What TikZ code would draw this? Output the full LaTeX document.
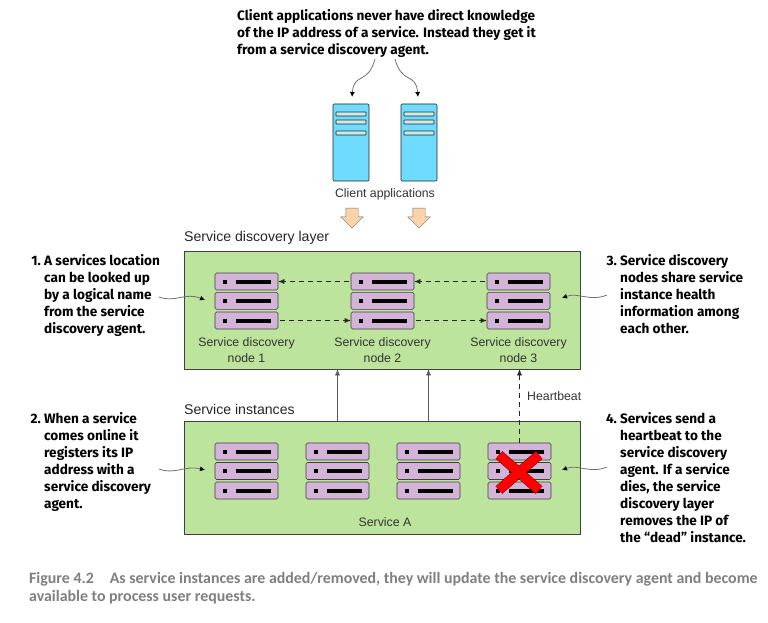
\documentclass[tikz,border=0pt]{standalone}
\usepackage{fontspec}
\setmainfont{Liberation Sans}
\newfontfamily\notefont{Fira Sans}
\newfontfamily\capfont{Carlito}
\usepackage{xcolor}
\usepackage{tikz}
\usetikzlibrary{arrows.meta}
\usetikzlibrary{shapes.arrows}
\definecolor{layergreen}{HTML}{BDE49C}
\definecolor{rackpurple}{HTML}{D4B3D9}
\definecolor{clientblue}{HTML}{6EDBFF}
\definecolor{slotblue}{HTML}{C9ECEA}
\definecolor{flowpeach}{HTML}{FBD3A8}
\definecolor{capgray}{HTML}{7F7F7F}
\tikzset{>=latex}
\tikzset{
  layerbox/.style = {rectangle, draw=black!75, semithick, fill=layergreen, minimum width=396, minimum height=118, inner sep=0},
  rackbar/.style = {rectangle, rounded corners=1.5, draw=black!75, semithick, fill=rackpurple, minimum width=63, minimum height=17, inner sep=0,
    path picture={
      \fill [black, sharp corners] ([xshift=8pt,yshift=-6.5pt]path picture bounding box.north west) rectangle +(4pt,-4pt);
      \fill [black, sharp corners] ([xshift=21pt,yshift=-6.5pt]path picture bounding box.north west) rectangle +(35pt,-4pt);
    }},
  clientbox/.style = {rectangle, rounded corners=1, draw=black!85, semithick, fill=clientblue, minimum width=36, minimum height=77, inner sep=0,
    path picture={
      \foreach \slot in {8,16,27} {
        \draw [black!85, semithick, fill=slotblue, rounded corners=0.5] ([xshift=3pt,yshift=-\slot pt]path picture bounding box.north west) rectangle +(30pt,-4pt);
      }
    }},
  flowarrow/.style = {single arrow, shape border rotate=270, draw=black!55, fill=flowpeach, minimum height=20, single arrow head extend=5, single arrow tip angle=90, inner sep=0},
  note/.style = {anchor=north west, align=left, inner sep=0, font=\notefont\bfseries\fontsize{13.6}{17}\selectfont},
  plainlabel/.style = {text=black!80, align=center, inner sep=0, font=\fontsize{12.3}{16.5}\selectfont},
  headlabel/.style = {text=black!85, anchor=west, inner sep=0, font=\fontsize{14.1}{16}\selectfont},
  callout/.style = {-{Latex[length=5,width=5,black]}, black!55, line width=0.8},
  peer/.style = {-{Latex[length=6,width=5]}, dash pattern=on 5 off 4, shorten <=2, black!85, semithick},
}
\begin{document}
\begin{tikzpicture}[x=1pt, y=-1pt]
\useasboundingbox [fill=white] (0,0) rectangle (768,623);
% top note and clients
\node [note] (topnote) at (237,9) {Client applications never have direct knowledge\\of the IP address of a service. Instead they get it\\from a service discovery agent.};
\node [clientbox] (c1) at (351,142.5) {};
\node [clientbox] (c2) at (419,142.5) {};
\node [plainlabel] (clabel) at (385,194.5) {Client applications};
\node [flowarrow] (f1) at (352,215) {\hspace*{12pt}};
\node [flowarrow] (f2) at (419,215) {\hspace*{12pt}};
\coordinate (t1) at (375,59);
\coordinate (t2) at (395,59);
\draw [callout] (t1) .. controls (368,85) and (354,72) .. (352,97);
\draw [callout] (t2) .. controls (402,85) and (416,72) .. (418,97);
% the two layers
\node [headlabel] (dlabel) at (184,238) {Service discovery layer};
\node [layerbox] (layer) at (382,310) {};
\node [headlabel] (ilabel) at (184,409) {Service instances};
\node [layerbox, minimum height=113] (inst) at (382,477.5) {};
% discovery nodes
\foreach \n/\x in {1/246.5, 2/382.5, 3/518.5} {
  \node [rackbar] (d\n a) at (\x,281.5) {};
  \node [rackbar] (d\n b) at (\x,300.8) {};
  \node [rackbar] (d\n c) at (\x,320.5) {};
  \node [plainlabel] (d\n l) at (\x,350) {Service discovery\\node \n};
}
% service instances
\foreach \n/\x in {1/246.5, 2/337.5, 3/428.5, 4/519.5} {
  \node [rackbar] (i\n a) at (\x,451.5) {};
  \node [rackbar] (i\n b) at (\x,471) {};
  \node [rackbar] (i\n c) at (\x,490.5) {};
}
\node [plainlabel] (alabel) at (385,522) {Service A};
\draw [peer] (d2a) -- (d1a);
\draw [peer] (d3a) -- (d2a);
\draw [peer] (d1c) -- (d2c);
\draw [peer] (d2c) -- (d3c);
% up to the discovery layer
\draw [-{Latex[length=6,width=5]}, black!65, semithick] (i2a.north |- inst.north) -- (i2a.north |- layer.south);
\draw [-{Latex[length=6,width=5]}, black!65, semithick] (i3a.north |- inst.north) -- (i3a.north |- layer.south);
\draw [-{Latex[length=6,width=5]}, dash pattern=on 5 off 4, black!85, semithick] (i4a.north) -- (i4a.north |- layer.south);
\node [plainlabel, anchor=west] (hlabel) at (527,396) {Heartbeat};
% the dead instance
\coordinate (xa) at (499,455);
\coordinate (xb) at (539,490);
\coordinate (xc) at (539,455);
\coordinate (xd) at (499,490);
\draw [black, line width=10] (xa) -- (xb) (xc) -- (xd);
\draw [red, line width=9.5] (xa) -- (xb) (xc) -- (xd);
% side notes
\node [note] (n1) at (44,254) {\llap{1.\ }A services location\\can be looked up\\by a logical name\\from the service\\discovery agent.};
\node [note] (n2) at (44,412.5) {\llap{2.\ }When a service\\comes online it\\registers its IP\\address with a\\service discovery\\agent.};
\node [note] (n3) at (620,254) {\llap{3.\ }Service discovery\\nodes share service\\instance health\\information among\\each other.};
\node [note] (n4) at (620,412.5) {\llap{4.\ }Services send a\\heartbeat to the\\service discovery\\agent. If a service\\dies, the service\\discovery layer\\removes the IP of\\the “dead” instance.};
\coordinate (s1) at (159,297);
\coordinate (s2) at (159,469);
\coordinate (s3) at (607,295);
\coordinate (s4) at (607,467);
\coordinate (e1) at (205,300);
\coordinate (e2) at (205,470);
\coordinate (e3) at (562,298);
\coordinate (e4) at (562,470);
\draw [callout] (s1) .. controls (175,303) and (185,292) .. (e1);
\draw [callout] (s2) .. controls (175,475) and (185,465) .. (e2);
\draw [callout] (s3) .. controls (590,302) and (578,292) .. (e3);
\draw [callout] (s4) .. controls (590,474) and (578,464) .. (e4);
% figure caption
\node [anchor=north west, align=left, inner sep=0, text=capgray, font=\capfont\bfseries\fontsize{15.9}{18}\selectfont] (cap) at (29,572) {Figure 4.2\quad As service instances are added/removed, they will update the service discovery agent and become\\available to process user requests.};
\end{tikzpicture}
\end{document}
